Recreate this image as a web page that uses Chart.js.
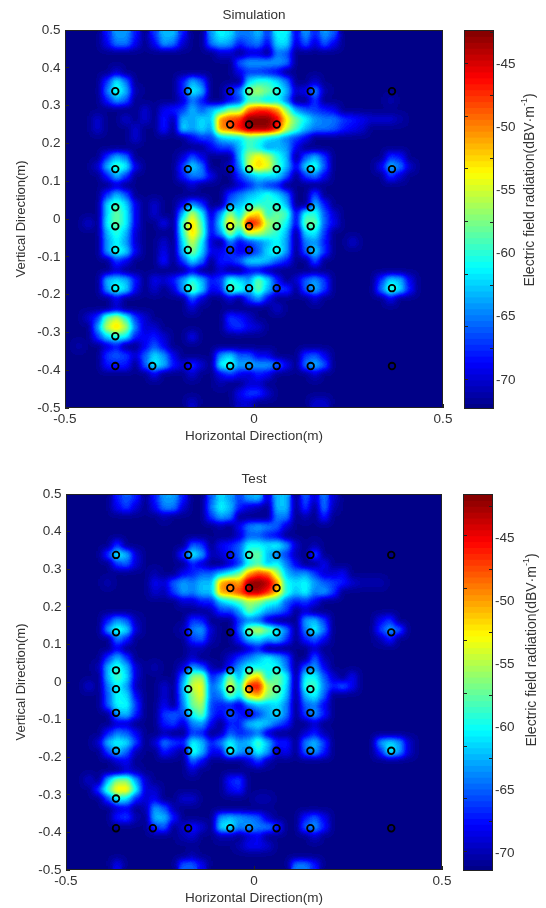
<!DOCTYPE html>
<html><head><meta charset="utf-8">
<script src="https://cdn.jsdelivr.net/npm/chart.js@4"></script>
<style>html,body{margin:0;background:#fff;overflow:hidden}canvas{position:absolute}</style>
</head><body>
<canvas id="c1" style="left:0;top:0" width="460" height="455"></canvas>
<canvas id="b1" style="left:456px;top:0" width="90" height="455"></canvas>
<canvas id="c2" style="left:0;top:464px" width="459" height="444"></canvas>
<canvas id="b2" style="left:454px;top:464px" width="92" height="444"></canvas>
<script>
// Probe positions (m)
const markerX=[-0.367,-0.175,-0.063,-0.013,0.06,0.15,0.365,
 -0.063,-0.013,0.06,
 -0.367,-0.175,-0.063,-0.013,0.06,0.15,0.365,
 -0.367,-0.175,-0.063,-0.013,0.06,0.15,
 -0.367,-0.175,-0.063,-0.013,0.06,0.15,
 -0.367,-0.175,-0.063,-0.013,0.06,0.15,
 -0.367,-0.175,-0.063,-0.013,0.06,0.15,0.365,
 -0.367,
 -0.367,-0.269,-0.175,-0.063,-0.013,0.06,0.15,0.365];
const markerY=[0.338,0.338,0.338,0.338,0.338,0.338,0.338,
 0.25,0.25,0.25,
 0.132,0.132,0.132,0.132,0.132,0.132,0.132,
 0.031,0.031,0.031,0.031,0.031,0.031,
 -0.019,-0.019,-0.019,-0.019,-0.019,-0.019,
 -0.082,-0.082,-0.082,-0.082,-0.082,-0.082,
 -0.183,-0.183,-0.183,-0.183,-0.183,-0.183,-0.183,
 -0.31,
 -0.389,-0.389,-0.389,-0.389,-0.389,-0.389,-0.389,-0.389];
const xTicks=[-0.5,0,0.5];
const colorTicks=[-70,-65,-60,-55,-50,-45];
// Field level (dBV/m) per 0.025 m cell, row from y=0.4875 down; columns not listed sit at the floor.
const simulationRows=[
{4:-68,5:-64,6:-64,7:-68,9:-67,10:-63,11:-63,12:-68,15:-64,16:-61,17:-62,18:-65,19:-65,20:-63,21:-67,22:-61,23:-61,24:-69,25:-64,26:-68,27:-64,28:-66},
{4:-69,5:-65,6:-65,7:-69,9:-69,10:-64,11:-65,12:-70,15:-65,16:-63,17:-64,18:-68,19:-66,20:-65,21:-69,22:-62,23:-62,24:-70,25:-66,26:-70,27:-66,28:-69},
{16:-70,17:-70,19:-70,20:-70,22:-65,23:-66},
{18:-66,19:-64,20:-64,21:-64,22:-64,23:-65},
{5:-70,18:-69,19:-67,20:-67,21:-68,22:-69},
{4:-67,5:-61,6:-65,12:-68,13:-63,14:-66,19:-62,20:-60,21:-60,22:-62,23:-65,26:-70},
{4:-65,5:-60,6:-63,7:-71,12:-68,13:-61,14:-63,17:-68,18:-65,19:-57,20:-56,21:-58,22:-60,23:-63,24:-70,25:-69,26:-64,27:-71},
{4:-68,5:-64,6:-66,12:-70,13:-65,14:-68,17:-69,18:-67,19:-60,20:-60,21:-62,22:-61,23:-65,26:-67,34:-71},
{8:-70,10:-69,11:-68,12:-67,13:-63,14:-66,15:-63,16:-61,17:-57,18:-57,19:-49,20:-47,21:-47,22:-50,23:-57,24:-64,25:-66,26:-67,27:-68,28:-69},
{3:-70,6:-70,8:-70,10:-68,11:-71,12:-63,13:-64,14:-62,15:-63,16:-50,17:-48,18:-47,19:-42,20:-42,21:-42,22:-45,23:-53,24:-58,25:-61,26:-64,27:-65,28:-65,29:-67,30:-68,31:-69,32:-70,33:-70,34:-70,35:-71},
{3:-70,7:-70,10:-68,12:-62,13:-64,14:-62,15:-64,16:-50,17:-49,18:-46,19:-43,20:-43,21:-43,22:-47,23:-55,24:-59,25:-63,26:-65,27:-65,28:-66,29:-68,30:-69,31:-70},
{7:-70,13:-69,14:-67,15:-67,16:-63,17:-62,18:-62,19:-59,20:-60,21:-62,22:-63,23:-65,24:-67,25:-69},
{15:-69,16:-67,17:-67,18:-63,19:-59,20:-61,21:-64,22:-63,23:-64,24:-69},
{4:-67,5:-63,6:-65,12:-70,13:-66,14:-69,18:-63,19:-56,20:-53,21:-55,22:-60,23:-63,25:-66,26:-63,27:-67,34:-67,35:-68},
{3:-70,4:-63,5:-59,6:-61,7:-69,12:-67,13:-62,14:-65,17:-70,18:-65,19:-55,20:-52,21:-54,22:-59,23:-63,24:-69,25:-62,26:-60,27:-66,33:-69,34:-63,35:-65,36:-70},
{4:-68,5:-63,6:-67,12:-68,13:-65,14:-65,15:-69,18:-67,19:-64,20:-62,21:-62,22:-62,23:-66,25:-67,26:-65,27:-69,34:-67,35:-70},
{5:-70,13:-70,18:-70,19:-68,20:-65,21:-67,22:-68},
{4:-67,5:-63,6:-66,17:-67,18:-65,19:-63,20:-62,21:-60,22:-62,23:-65,26:-66},
{4:-62,5:-59,6:-62,7:-69,9:-70,12:-69,13:-64,14:-67,17:-65,18:-63,19:-61,20:-60,21:-60,22:-60,23:-63,26:-63,27:-68},
{4:-62,5:-58,6:-61,7:-69,9:-70,12:-63,13:-55,14:-61,15:-70,16:-64,17:-56,18:-62,19:-54,20:-52,21:-60,22:-58,23:-59,24:-69,25:-60,26:-60,27:-66,28:-70},
{2:-70,4:-61,5:-58,6:-61,7:-69,10:-69,12:-59,13:-52,14:-59,15:-69,16:-62,17:-52,18:-58,19:-45,20:-48,21:-56,22:-58,23:-61,24:-69,25:-58,26:-58,27:-66,28:-69},
{4:-63,5:-60,6:-63,7:-70,12:-60,13:-52,14:-58,15:-69,16:-64,17:-56,18:-62,19:-54,20:-55,21:-58,22:-60,23:-63,25:-62,26:-61,27:-67},
{4:-64,5:-61,6:-64,7:-70,10:-70,12:-62,13:-55,14:-61,15:-70,17:-65,18:-69,19:-67,20:-65,21:-63,22:-61,23:-64,25:-65,26:-64,27:-68,30:-70},
{4:-64,5:-60,6:-62,7:-69,10:-69,12:-63,13:-57,14:-62,15:-69,16:-69,17:-67,18:-69,19:-69,20:-66,21:-62,22:-60,23:-64,25:-66,26:-62,27:-67},
{5:-67,6:-69,10:-68,12:-67,13:-62,14:-65,16:-68,17:-68,18:-66,19:-62,20:-62,21:-63,22:-66,23:-68,26:-66},
{5:-70,13:-69,16:-70,19:-69,20:-69,21:-71},
{4:-63,5:-62,6:-63,7:-68,9:-69,10:-70,11:-68,12:-64,13:-60,14:-63,15:-68,16:-67,17:-60,18:-62,19:-64,20:-58,21:-62,22:-68,24:-70,25:-66,26:-64,27:-67,33:-67,34:-62,35:-63,36:-69},
{4:-64,5:-60,6:-62,7:-69,9:-70,11:-70,12:-64,13:-58,14:-62,15:-69,16:-68,17:-59,18:-60,19:-63,20:-58,21:-63,22:-67,23:-67,25:-66,26:-63,27:-67,33:-65,34:-59,35:-62,36:-68},
{5:-69,13:-66,14:-70,17:-70,19:-67,20:-64,21:-69,26:-70,34:-69},
{5:-70,13:-70,22:-70},
{2:-70,3:-67,4:-58,5:-55,6:-60,7:-67,8:-70,17:-67,18:-68,19:-70},
{3:-64,4:-55,5:-52,6:-56,7:-65,8:-70,9:-70,17:-68,18:-67,19:-69,20:-70},
{3:-67,4:-62,5:-60,6:-61,7:-68,8:-69,9:-68,10:-70,13:-69},
{1:-71,4:-70,5:-68,8:-69,9:-66,10:-69},
{4:-67,5:-66,6:-67,7:-70,8:-66,9:-62,10:-64,11:-69,16:-64,17:-62,18:-66,19:-66,20:-69,21:-69,25:-67,26:-66,27:-69},
{4:-68,5:-68,6:-68,8:-66,9:-61,10:-63,11:-68,12:-70,13:-67,14:-70,16:-61,17:-60,18:-64,19:-63,20:-64,21:-64,22:-65,23:-69,25:-65,26:-63,27:-66},
{9:-69,13:-70,16:-69,17:-67,18:-69,19:-70,20:-68,21:-69,26:-70},
{16:-71,19:-70,20:-70},
{18:-69,19:-67,20:-67,21:-70},
{13:-70,18:-70,19:-70,26:-70,27:-70}
];
const testRows=[
{5:-67,6:-65,7:-67,9:-67,10:-63,11:-63,12:-67,15:-65,16:-61,17:-63,18:-66,19:-63,20:-62,21:-69,22:-62,23:-62,25:-65,26:-69,27:-64,28:-69},
{5:-68,6:-66,7:-69,9:-68,10:-64,11:-64,12:-69,15:-64,16:-60,17:-62,18:-67,19:-69,20:-70,22:-62,23:-62,25:-66,27:-64,28:-70},
{10:-70,15:-66,16:-63,17:-64,22:-64,23:-64,25:-70,27:-67},
{16:-70,18:-68,19:-64,20:-63,21:-64,22:-65,23:-69},
{18:-69,19:-65,20:-65,21:-67,22:-68},
{5:-66,13:-65,14:-66,16:-68,17:-67,18:-65,19:-60,20:-60,21:-61,22:-60,23:-63,24:-69,26:-70},
{4:-66,5:-60,6:-62,7:-69,12:-66,13:-60,14:-63,15:-70,16:-69,17:-67,18:-65,19:-58,20:-57,21:-62,22:-64,23:-66,24:-70,26:-65},
{5:-66,6:-65,7:-69,13:-67,14:-69,17:-69,18:-66,19:-60,20:-58,21:-62,22:-60,23:-64,24:-68,27:-68},
{9:-70,12:-68,13:-67,14:-65,15:-65,16:-62,17:-60,18:-57,19:-50,20:-47,21:-48,22:-55,23:-62,24:-64,25:-63,26:-66,27:-69,28:-69,29:-68},
{4:-70,9:-68,10:-69,11:-65,12:-63,13:-64,14:-62,15:-62,16:-50,17:-48,18:-50,19:-42,20:-41,21:-43,22:-49,23:-60,24:-61,25:-60,26:-63,27:-65,28:-66,29:-67,30:-69,31:-70,32:-70,33:-70},
{9:-69,10:-70,11:-66,12:-63,13:-64,14:-62,15:-62,16:-50,17:-49,18:-47,19:-43,20:-43,21:-46,22:-51,23:-59,24:-62,25:-60,26:-64,27:-63,28:-66},
{12:-69,13:-69,14:-67,15:-67,16:-62,17:-60,18:-58,19:-55,20:-56,21:-59,22:-60,23:-65,24:-67,25:-66,26:-68},
{15:-70,16:-66,17:-66,18:-63,19:-57,20:-60,21:-63,22:-64,23:-66,25:-69},
{4:-67,5:-63,6:-65,7:-70,13:-66,14:-67,18:-66,19:-64,20:-65,21:-69,25:-63,26:-62,27:-66,33:-68,34:-66},
{4:-63,5:-59,6:-61,7:-69,12:-70,13:-64,14:-63,15:-69,18:-65,19:-56,20:-54,21:-57,22:-60,23:-64,25:-64,26:-60,27:-64,33:-66,34:-63,35:-65},
{5:-64,6:-67,13:-66,14:-65,15:-70,18:-67,19:-62,20:-61,21:-63,22:-62,23:-66,25:-67,26:-65,27:-68,33:-70,34:-67},
{5:-68,13:-70,14:-70,19:-69,20:-67,26:-69},
{4:-66,5:-62,6:-66,13:-69,17:-69,18:-66,19:-64,20:-62,21:-60,22:-62,23:-65,26:-65,27:-70},
{3:-70,4:-62,5:-59,6:-62,7:-69,9:-70,12:-69,13:-63,14:-65,15:-70,17:-67,18:-63,19:-60,20:-60,21:-60,22:-60,23:-64,25:-65,26:-63,27:-68},
{4:-62,5:-58,6:-61,7:-69,12:-64,13:-56,14:-55,15:-67,16:-64,17:-56,18:-63,19:-54,20:-51,21:-60,22:-57,23:-60,25:-60,26:-60,27:-65,28:-69,30:-68},
{2:-69,4:-64,5:-60,6:-63,7:-70,10:-69,12:-62,13:-54,14:-53,15:-65,16:-62,17:-53,18:-60,19:-46,20:-45,21:-55,22:-57,23:-61,25:-59,26:-58,27:-64,28:-67,29:-65,30:-68},
{4:-65,5:-60,6:-61,7:-68,10:-69,12:-63,13:-56,14:-53,15:-65,16:-64,17:-57,18:-61,19:-52,20:-50,21:-56,22:-58,23:-62,25:-62,26:-60,27:-65},
{4:-65,5:-60,6:-60,7:-66,10:-68,12:-64,13:-57,14:-55,15:-66,16:-67,17:-67,18:-69,19:-64,20:-62,21:-62,22:-61,23:-64,25:-65,26:-64,27:-68},
{5:-63,6:-62,7:-67,10:-66,11:-65,12:-66,13:-60,14:-57,15:-66,16:-68,17:-65,18:-67,19:-69,20:-66,21:-63,22:-61,23:-64,25:-66,26:-63,27:-67},
{5:-69,6:-69,10:-67,11:-66,12:-69,13:-64,14:-63,15:-68,17:-67,18:-67,19:-62,20:-61,21:-62,22:-65,23:-67,26:-69},
{4:-67,5:-64,6:-65,7:-68,10:-70,13:-66,14:-67,16:-70,17:-65,18:-67,19:-66,20:-64,21:-69,25:-69,26:-67,27:-70},
{3:-69,4:-62,5:-60,6:-61,7:-66,9:-69,10:-64,11:-66,12:-67,13:-60,14:-62,15:-67,16:-64,17:-60,18:-63,19:-62,20:-58,21:-62,22:-67,23:-67,25:-64,26:-62,27:-66,33:-63,34:-61,35:-63,36:-69},
{4:-66,5:-62,6:-65,7:-70,10:-67,11:-69,13:-59,14:-62,15:-68,16:-68,17:-59,18:-63,19:-64,20:-60,21:-63,22:-69,23:-68,25:-65,26:-63,27:-67,33:-67,34:-60,35:-63,36:-69},
{5:-69,6:-68,13:-65,14:-68,19:-69,20:-66,21:-70},
{6:-69,7:-70,13:-69},
{2:-69,4:-62,5:-56,6:-56,7:-63,8:-69,17:-67,18:-66},
{3:-66,4:-58,5:-52,6:-52,7:-60,8:-69,9:-69,17:-68,18:-67},
{4:-66,5:-60,6:-61,7:-67,8:-69,9:-68,12:-69,13:-69,20:-70,21:-70},
{5:-69,6:-68,8:-70,9:-63,10:-65,11:-70},
{5:-67,6:-66,7:-70,9:-62,10:-62,11:-67,16:-63,17:-62,18:-63,19:-64,20:-65,21:-69,25:-67,26:-65,27:-68},
{9:-66,10:-65,12:-69,13:-67,14:-69,16:-61,17:-60,18:-64,19:-63,20:-64,21:-64,22:-66,25:-65,26:-63,27:-67},
{12:-70,13:-69,16:-70,17:-70,19:-69,20:-68,26:-69},
{18:-70,19:-68,20:-68,21:-69},
{12:-71,13:-70},
{5:-68,12:-65,13:-65,14:-68,24:-64,25:-64,26:-67}
];
const FONT='"Liberation Sans",Arial,sans-serif', INK='#333';

function jet(t){
  const k=Math.min(63,Math.max(0,Math.floor(t*64))), u=(k+.5)/64, c=x=>Math.round(255*Math.min(1,Math.max(0,x)));
  return [c(Math.min(4*u-1.5,-4*u+4.5)),c(Math.min(4*u-.5,-4*u+3.5)),c(Math.min(4*u+.5,-4*u+2.5))];
}
// MATLAB-style "shading interp": cells carry the level as grey, are smoothed, then painted with the jet map.
const shading={id:'shading',afterDatasetDraw(chart,args){
  if(args.index!==0)return;
  const a=chart.chartArea,x=Math.round(a.left),y=Math.round(a.top),w=Math.round(a.right)-x,h=Math.round(a.bottom)-y;
  const s=document.createElement('canvas');s.width=w;s.height=h;
  s.getContext('2d').drawImage(chart.canvas,x,y,w,h,0,0,w,h);
  const d=document.createElement('canvas');d.width=w;d.height=h;
  const o=d.getContext('2d');o.drawImage(s,0,0);o.filter='blur(3px)';o.drawImage(s,0,0);
  const img=o.getImageData(0,0,w,h),p=img.data;
  for(let i=0;i<p.length;i+=4){const c=jet(p[i]/255.001);p[i]=c[0];p[i+1]=c[1];p[i+2]=c[2];p[i+3]=255;}
  chart.ctx.putImageData(img,x,y);
}};
const box={id:'box',afterDraw(chart){
  const a=chart.chartArea,c=chart.ctx;c.save();c.strokeStyle='#222';c.lineWidth=1;
  c.strokeRect(Math.round(a.left)+.5,Math.round(a.top)+.5,Math.round(a.right-a.left)-1,Math.round(a.bottom-a.top)-1);c.restore();
}};
const ink={display:true,drawOnChartArea:false,drawTicks:true,tickLength:-4,tickColor:'#222',z:1};

function heatmap(id,title,rows,lo,hi,floor,o){
  const cells=[],grey=[];
  rows.forEach((row,r)=>{for(let c=0;c<40;c++){
    const v=row[c]??floor;
    cells.push({x:-0.4875+0.025*c,y:0.4875-0.025*r});
    const g=Math.round(255*Math.max(0,Math.min(1,(v-lo)/(hi-lo))));
    grey.push(`rgb(${g},${g},${g})`);
  }});
  new Chart(document.getElementById(id),{type:'scatter',
    data:{datasets:[
      {label:title,data:cells,order:2,pointStyle:'rect',pointRadius:7.3,pointBorderWidth:0,pointBackgroundColor:grey},
      {label:'Probe',data:markerX.map((x,i)=>({x,y:markerY[i]})),order:1,pointRadius:3.3,pointBorderWidth:1.8,pointBorderColor:'#000',pointBackgroundColor:'transparent'}
    ]},
    plugins:[shading,box],
    options:{responsive:false,animation:false,events:[],
      layout:{padding:{left:0,top:0,right:o.right,bottom:0}},
      plugins:{legend:{display:false},tooltip:{enabled:false},
        title:{display:true,fullSize:false,text:title,color:INK,font:{family:FONT,size:13.5,weight:'normal'},padding:{top:6.9,bottom:6.9}}},
      scales:{
        x:{type:'linear',min:-0.5,max:0.5,grid:ink,border:{display:false},
          afterFit(s){s.height=o.bottom},afterBuildTicks(s){s.ticks=xTicks.map(value=>({value}))},
          ticks:{autoSkip:false,maxRotation:0,color:INK,padding:7,font:{family:FONT,size:13.5}},
          title:{display:true,text:'Horizontal Direction(m)',color:INK,font:{family:FONT,size:13.5},padding:{top:2,bottom:o.titleGap}}},
        y:{type:'linear',min:-0.5,max:0.5,grid:ink,border:{display:false},
          afterFit(s){s.width=o.left},
          ticks:{stepSize:0.1,autoSkip:false,color:INK,padding:8.5,font:{family:FONT,size:13.5}},
          title:{display:true,text:'Vertical Direction(m)',color:INK,font:{family:FONT,size:13},padding:{top:14,bottom:0}}}
      }}});
}
function colorbar(id,lo,hi,o){
  const levels=[],colors=[];
  for(let k=0;k<64;k++){levels.push({x:1,y:lo+(k+.5)*(hi-lo)/64});const c=jet((k+.5)/64);colors.push(`rgb(${c})`);}
  const label={id:'barLabel',afterDraw(chart){
    const c=chart.ctx;c.save();c.translate(o.titleX,o.titleY);c.rotate(-Math.PI/2);
    c.fillStyle=INK;c.textBaseline='middle';c.textAlign='left';
    const base='Electric field radiation(dBV\u00b7m',sup='-1';
    c.font=`14px ${FONT}`;const w1=c.measureText(base).width,wp=c.measureText(')').width;
    c.font=`9px ${FONT}`;const w2=c.measureText(sup).width;
    const start=-(w1+w2+wp)/2;
    c.font=`14px ${FONT}`;c.fillText(base,start,0);c.fillText(')',start+w1+w2,0);
    c.font=`9px ${FONT}`;c.fillText(sup,start+w1,-5);c.restore();
  }};
  new Chart(document.getElementById(id),{type:'bar',
    data:{datasets:[{label:'level',data:levels,backgroundColor:colors,borderWidth:0,barThickness:7.2,grouped:false}]},
    plugins:[box,label],
    options:{indexAxis:'y',responsive:false,animation:false,events:[],
      layout:{padding:{top:30,bottom:o.bottom,left:0,right:0}},
      plugins:{legend:{display:false},tooltip:{enabled:false}},
      scales:{
        x:{type:'linear',min:0,max:1,display:false},
        y:{type:'linear',position:'right',min:lo,max:hi,offset:false,grid:ink,border:{display:false},
          afterFit(s){s.width=o.right},afterBuildTicks(s){s.ticks=colorTicks.map(value=>({value}))},
          ticks:{autoSkip:false,color:INK,padding:6,font:{family:FONT,size:13.5}}},
        yL:{type:'linear',position:'left',min:lo,max:hi,grid:ink,border:{display:false},
          afterFit(s){s.width=o.left},afterBuildTicks(s){s.ticks=colorTicks.map(value=>({value}))},
          ticks:{display:false}}
      }}});
}
heatmap('c1','Simulation',simulationRows,-72.3,-42.3,-72,{left:65,right:17,bottom:47,titleGap:11});
colorbar('b1',-72.3,-42.3,{bottom:46,left:8,right:52,titleX:74,titleY:190});
heatmap('c2','Test',testRows,-71.4,-41.5,-71,{left:66,right:17,bottom:38,titleGap:2});
colorbar('b2',-71.4,-41.5,{bottom:37,left:9,right:53,titleX:78,titleY:186});
</script>
</body></html>
